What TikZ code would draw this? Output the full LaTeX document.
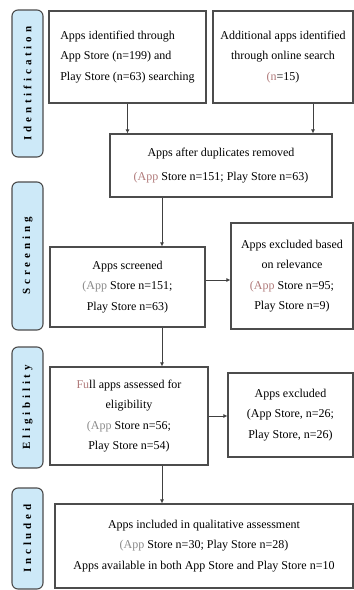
\documentclass[tikz,border=0pt]{standalone}
\usepackage{fontspec}
\setmainfont{Liberation Serif}
\usetikzlibrary{arrows.meta}
\definecolor{rosy}{HTML}{B07A7A}
\definecolor{greyish}{HTML}{8A8A8A}
\definecolor{phaseblue}{HTML}{CDE9F8}
\begin{document}
\begin{tikzpicture}[x=1pt,y=-1pt,
    box/.style={draw=black!70, line width=1.1pt, inner sep=2pt,
        font=\fontsize{12}{20.5}\selectfont},
    phase/.style={draw=black!70, line width=1.1pt, fill=phaseblue, rounded corners=6pt,
        rotate=90, minimum height=31pt, inner sep=0pt,
        font=\fontsize{11}{11}\selectfont\bfseries\addfontfeatures{LetterSpace=35}},
    arr/.style={-{Latex[length=4pt,width=4pt]}, draw=black!75, line width=0.9pt}]
        \useasboundingbox (0,0) rectangle (354,590);

        % phases on the left
        \node[phase, minimum width=147pt] (idPhase) at (27.5,83.5) {Identification};
        \node[phase, minimum width=148pt] (scrPhase) at (27.5,256) {Screening};
        \node[phase, minimum width=121pt] (eligPhase) at (27.5,407.5) {Eligibility};
        \node[phase, minimum width=101pt] (inclPhase) at (27.5,538.5) {Included};

        \node[box, minimum width=157pt, minimum height=92pt, align=left] (idApps) at (127.5,57) {
            Apps identified through\\
            App Store (n=199) and\\
            Play Store (n=63) searching
        };
        \node[box, minimum width=140pt, minimum height=92pt, align=center] (addApps) at (283,57) {
            Additional apps identified\\
            through online search\\
            {\color{rosy}(n}=15)
        };

        \node[box, minimum width=222pt, minimum height=63pt, align=center] (dedup) at (221,165.5) {
            Apps after duplicates removed\\[4pt]
            {\color{rosy}(App} Store n=151; Play Store n=63)
        };

        \node[box, minimum width=155pt, minimum height=80pt, align=center] (screened) at (127.5,287) {
            Apps screened\\
            {\color{greyish}(App} Store n=151;\\
            Play Store n=63)
        };
        \node[box, minimum width=122pt, minimum height=106pt, align=center] (exclRel) at (292,276) {
            Apps excluded based\\
            on relevance\\
            {\color{rosy}(App} Store n=95;\\
            Play Store n=9)
        };

        \node[box, minimum width=158pt, minimum height=98pt, align=center] (assessed) at (129,416) {
            {\color{rosy}Fu}ll apps assessed for\\
            eligibility\\
            {\color{greyish}(App} Store n=56;\\
            Play Store n=54)
        };
        \node[box, minimum width=125pt, minimum height=84pt, align=center] (exclElig) at (290.5,415) {
            Apps excluded\\
            (App Store, n=26;\\
            Play Store, n=26)
        };

        \node[box, minimum width=298pt, minimum height=84pt, align=center] (included) at (204,546) {
            Apps included in qualitative assessment\\
            {\color{greyish}(App} Store n=30; Play Store n=28)\\
            Apps available in both App Store and Play Store n=10
        };

        \draw[arr] (idApps.south) -- (idApps.south |- dedup.north);
        \draw[arr] ([xshift=30pt]addApps.south) -- ([xshift=30pt]addApps.south |- dedup.north);
        \draw[arr] ([xshift=-59pt]dedup.south) -- ([xshift=-59pt]dedup.south |- screened.north);
        \draw[arr] ([yshift=7pt]screened.east) -- ([yshift=7pt]screened.east -| exclRel.west);
        \draw[arr] ([xshift=34.5pt]screened.south) -- ([xshift=34.5pt]screened.south |- assessed.north);
        \draw[arr] (assessed.east) -- (assessed.east -| exclElig.west);
        \draw[arr] ([xshift=33pt]assessed.south) -- ([xshift=33pt]assessed.south |- included.north);
    \end{tikzpicture}
\end{document}
